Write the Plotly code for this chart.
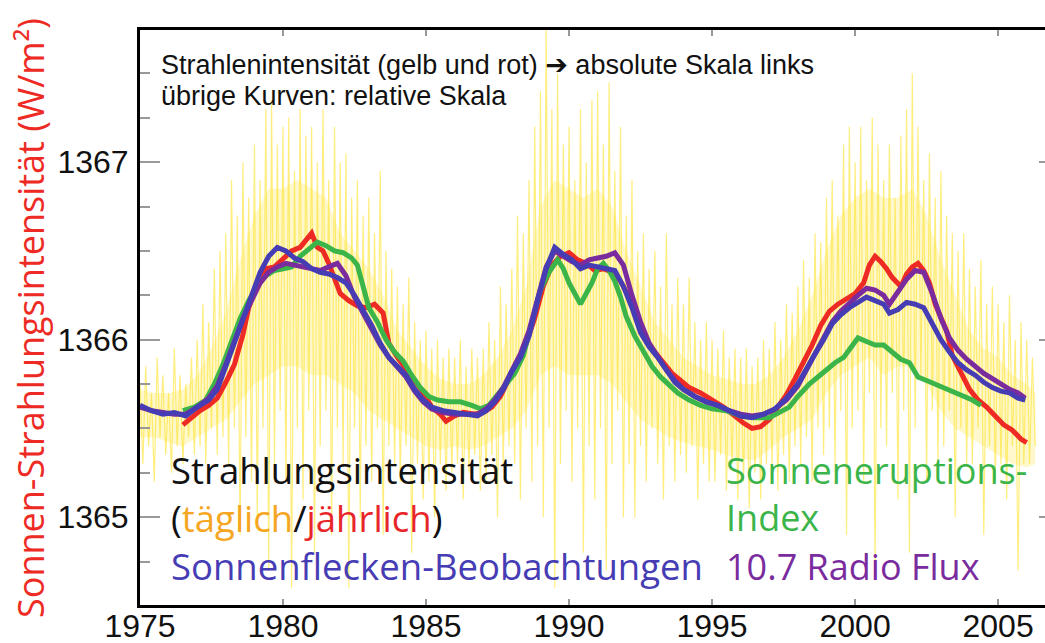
import plotly.graph_objects as go

# ---------------- data ----------------
x_ticks = [1975, 1980, 1985, 1990, 1995, 2000, 2005]
y_ticks = [1365, 1366, 1367]

# daily irradiance (yellow): upper and lower spike tips every 0.2 years from 1975.0
yellow_start = 1975.0
yellow_step = 0.2
yellow_hi = [
    1365.75, 1365.85, 1365.7, 1365.9, 1365.8, 1365.7, 1365.95, 1365.8, 1365.75, 1365.9,
    1366.0, 1366.2, 1366.1, 1366.4, 1366.5,
    1366.6, 1366.9, 1366.7, 1367.0, 1366.8,
    1367.1, 1366.9, 1367.3, 1367.35, 1367.1,
    1367.2, 1367.25, 1366.95, 1367.3, 1367.15,
    1367.2, 1367.0, 1367.3, 1366.9, 1367.2,
    1367.0, 1367.05, 1366.8, 1366.9, 1366.7,
    1366.8, 1366.6, 1366.95, 1366.5, 1366.4,
    1366.3, 1366.2, 1366.35, 1366.1, 1366.0,
    1366.05, 1365.95, 1366.0, 1365.9, 1365.95,
    1365.9, 1366.0, 1365.85, 1365.95, 1365.9,
    1365.95, 1366.1, 1366.0, 1366.3, 1366.2,
    1366.4, 1366.7, 1366.6, 1366.9, 1367.2,
    1367.4, 1367.75, 1367.3, 1367.5, 1367.1,
    1367.2, 1366.9, 1367.3, 1367.0, 1367.35,
    1367.4, 1367.1, 1367.45, 1366.95, 1367.2,
    1366.7, 1366.9, 1366.5, 1366.6, 1366.4,
    1366.5, 1366.3, 1366.6, 1366.2, 1366.35,
    1366.2, 1366.35, 1366.1, 1366.0, 1366.1,
    1366.0, 1365.95, 1366.05, 1365.9, 1365.95,
    1365.9, 1365.95, 1365.85, 1365.9, 1366.0,
    1365.95, 1366.1, 1366.0, 1366.2, 1366.15,
    1366.3, 1366.45, 1366.35, 1366.6, 1366.55,
    1366.8, 1366.9, 1366.7, 1367.1, 1367.2,
    1367.0, 1367.2, 1366.9, 1367.25, 1367.1,
    1366.9, 1367.1, 1366.8, 1367.15, 1367.3,
    1367.5, 1367.2, 1366.9, 1367.05, 1366.8,
    1366.95, 1366.7, 1366.6, 1366.5, 1366.6,
    1366.4, 1366.3, 1366.45, 1366.2, 1366.3,
    1366.2, 1366.1, 1366.25, 1366.0, 1366.1,
    1366.0, 1365.9,
]
yellow_lo = [
    1365.3, 1365.4, 1365.2, 1365.45, 1365.35, 1365.25, 1365.4, 1365.3, 1365.45, 1365.35,
    1365.4, 1365.3, 1365.5, 1365.35, 1365.45,
    1365.3, 1365.5, 1364.9, 1365.45, 1365.2,
    1365.0, 1365.5, 1364.7, 1365.3, 1365.6,
    1365.2, 1364.6, 1365.5, 1365.1, 1365.6,
    1364.8, 1365.4, 1365.6, 1364.9, 1365.5,
    1365.3, 1364.6, 1365.5, 1365.0, 1365.4,
    1365.2, 1365.5, 1364.9, 1365.4, 1365.3,
    1365.2, 1365.4, 1364.8, 1365.3, 1365.1,
    1365.2, 1365.0, 1365.3, 1365.15, 1365.25,
    1365.3, 1365.1, 1365.25, 1365.35, 1365.15,
    1365.2, 1365.35, 1365.0, 1365.3, 1365.4,
    1365.3, 1365.1, 1365.5, 1365.2, 1365.4,
    1365.0, 1365.5, 1364.6, 1365.3, 1365.6,
    1365.2, 1365.5, 1364.8, 1365.4, 1365.1,
    1365.5, 1364.7, 1365.3, 1365.6, 1365.0,
    1365.3, 1365.0, 1365.4, 1365.2, 1365.5,
    1365.3, 1365.1, 1365.4, 1365.2, 1365.35,
    1365.25, 1365.4, 1365.1, 1365.3, 1365.2,
    1365.2, 1365.35, 1365.15, 1365.3, 1365.1,
    1365.2, 1365.05, 1365.25, 1365.1, 1365.3,
    1365.3, 1365.15, 1365.35, 1365.2, 1365.4,
    1365.3, 1365.45, 1365.2, 1365.5, 1365.35,
    1365.5, 1365.3, 1365.6, 1364.9, 1365.5,
    1365.6, 1365.2, 1365.7, 1364.7, 1365.5,
    1365.4, 1365.7, 1365.1, 1365.6, 1364.8,
    1365.5, 1365.8, 1365.2, 1365.6, 1365.3,
    1365.4, 1365.6, 1365.0, 1365.5, 1365.3,
    1365.3, 1365.5, 1364.9, 1365.4, 1365.2,
    1365.3, 1365.1, 1365.4, 1364.7, 1365.3,
    1365.3, 1365.4,
]

# dense core of the daily values (yellow band), every 0.5 years from 1975.0
core_years = [1975.0, 1975.5, 1976.0, 1976.5, 1977.0, 1977.5, 1978.0, 1978.5, 1979.0, 1979.5,
              1980.0, 1980.5, 1981.0, 1981.5, 1982.0, 1982.5, 1983.0, 1983.5, 1984.0, 1984.5,
              1985.0, 1985.5, 1986.0, 1986.5, 1987.0, 1987.5, 1988.0, 1988.5, 1989.0, 1989.5,
              1990.0, 1990.5, 1991.0, 1991.5, 1992.0, 1992.5, 1993.0, 1993.5, 1994.0, 1994.5,
              1995.0, 1995.5, 1996.0, 1996.5, 1997.0, 1997.5, 1998.0, 1998.5, 1999.0, 1999.5,
              2000.0, 2000.5, 2001.0, 2001.5, 2002.0, 2002.5, 2003.0, 2003.5, 2004.0, 2004.5,
              2005.0, 2005.5, 2006.0, 2006.3]
core_hi = [1365.72, 1365.7, 1365.7, 1365.72, 1365.8, 1365.95, 1366.15, 1366.45, 1366.7, 1366.85,
           1366.85, 1366.9, 1366.85, 1366.8, 1366.6, 1366.5, 1366.4, 1366.25, 1366.05, 1365.95,
           1365.85, 1365.78, 1365.75, 1365.75, 1365.8, 1365.9, 1366.05, 1366.3, 1366.75, 1366.9,
           1366.85, 1366.8, 1366.85, 1366.75, 1366.5, 1366.3, 1366.1, 1366.0, 1365.9, 1365.85,
           1365.8, 1365.78, 1365.75, 1365.75, 1365.8, 1365.9, 1366.05, 1366.25, 1366.5, 1366.7,
           1366.8, 1366.85, 1366.8, 1366.8, 1366.85, 1366.7, 1366.45, 1366.25, 1366.05, 1365.95,
           1365.9, 1365.8, 1365.75, 1365.7]
core_lo = [1365.45, 1365.45, 1365.42, 1365.4, 1365.45, 1365.5, 1365.55, 1365.65, 1365.75, 1365.8,
           1365.85, 1365.85, 1365.8, 1365.8, 1365.75, 1365.7, 1365.6, 1365.55, 1365.5, 1365.45,
           1365.4, 1365.38, 1365.4, 1365.38, 1365.4, 1365.45, 1365.5, 1365.6, 1365.8, 1365.85,
           1365.8, 1365.8, 1365.8, 1365.75, 1365.65, 1365.55, 1365.5, 1365.45, 1365.42, 1365.4,
           1365.38, 1365.35, 1365.33, 1365.32, 1365.38, 1365.45, 1365.5, 1365.55, 1365.7, 1365.8,
           1365.85, 1365.9, 1365.8, 1365.85, 1365.85, 1365.75, 1365.6, 1365.5, 1365.45, 1365.4,
           1365.35, 1365.3, 1365.28, 1365.3]

# annual irradiance (red)
red_years = [1976.5, 1976.8, 1977.1, 1977.4, 1977.7, 1978.0, 1978.3, 1978.6, 1978.8, 1979.1,
             1979.4, 1979.7, 1980.0, 1980.3, 1980.6, 1980.8, 1981.0, 1981.2, 1981.4, 1981.6,
             1981.8, 1982.0, 1982.3, 1982.6, 1982.9, 1983.2, 1983.5, 1983.7, 1984.0, 1984.3,
             1984.6, 1984.9, 1985.2, 1985.5, 1985.7, 1986.0, 1986.3, 1986.7, 1987.0, 1987.3,
             1987.6, 1987.9, 1988.2, 1988.5, 1988.8, 1989.1, 1989.4, 1989.7, 1990.0, 1990.3,
             1990.6, 1990.9, 1991.2, 1991.5, 1991.8, 1992.1, 1992.4, 1992.7, 1993.0, 1993.3,
             1993.6, 1993.9, 1994.2, 1994.6, 1995.0, 1995.4, 1995.8, 1996.1, 1996.4, 1996.7,
             1997.0, 1997.3, 1997.6, 1997.9, 1998.2, 1998.5, 1998.8, 1999.1, 1999.4, 1999.7,
             2000.0, 2000.3, 2000.5, 2000.7, 2000.9, 2001.1, 2001.3, 2001.6, 2001.8, 2002.0,
             2002.2, 2002.4, 2002.6, 2002.8, 2003.0, 2003.2, 2003.4, 2003.7, 2004.0, 2004.3,
             2004.6, 2004.9, 2005.2, 2005.5, 2005.8, 2006.0]
red_vals = [1365.52, 1365.56, 1365.60, 1365.63, 1365.67, 1365.76, 1365.86, 1366.03, 1366.18, 1366.32,
            1366.40, 1366.41, 1366.46, 1366.50, 1366.52, 1366.56, 1366.60, 1366.52, 1366.50, 1366.43,
            1366.35, 1366.26, 1366.22, 1366.19, 1366.18, 1366.20, 1366.15, 1365.98, 1365.90, 1365.84,
            1365.77, 1365.70, 1365.62, 1365.58, 1365.54, 1365.57, 1365.59, 1365.58, 1365.59, 1365.62,
            1365.68, 1365.78, 1365.88, 1365.98, 1366.12, 1366.30, 1366.42, 1366.47, 1366.49, 1366.45,
            1366.43, 1366.39, 1366.40, 1366.38, 1366.33, 1366.24, 1366.12, 1366.00, 1365.93, 1365.87,
            1365.81, 1365.77, 1365.73, 1365.70, 1365.66, 1365.62, 1365.57, 1365.53, 1365.50, 1365.51,
            1365.55, 1365.62, 1365.69, 1365.78, 1365.87, 1365.97, 1366.08, 1366.16, 1366.20, 1366.23,
            1366.26, 1366.32, 1366.42, 1366.47, 1366.44, 1366.40, 1366.35, 1366.30, 1366.37, 1366.41,
            1366.43, 1366.39, 1366.32, 1366.20, 1366.12, 1366.05, 1365.91, 1365.82, 1365.72, 1365.66,
            1365.62, 1365.57, 1365.52, 1365.49, 1365.44, 1365.42]

# sunspot observations (blue) and 10.7 radio flux (purple), same time grid
sp_years = [1975.0, 1975.4, 1975.8, 1976.2, 1976.6, 1977.0, 1977.4, 1977.7, 1978.0, 1978.3,
            1978.6, 1978.9, 1979.2, 1979.5, 1979.8, 1980.1, 1980.4, 1980.7, 1981.0, 1981.3,
            1981.6, 1981.9, 1982.2, 1982.5, 1982.8, 1983.1, 1983.4, 1983.7, 1984.0, 1984.3,
            1984.6, 1984.9, 1985.2, 1985.6, 1986.0, 1986.4, 1986.8, 1987.1, 1987.4, 1987.7,
            1988.0, 1988.3, 1988.6, 1988.9, 1989.2, 1989.5, 1989.8, 1990.1, 1990.4, 1990.7,
            1991.0, 1991.3, 1991.6, 1991.9, 1992.2, 1992.5, 1992.8, 1993.1, 1993.4, 1993.7,
            1994.0, 1994.4, 1994.8, 1995.2, 1995.6, 1996.0, 1996.4, 1996.8, 1997.2, 1997.6,
            1998.0, 1998.3, 1998.6, 1998.9, 1999.2, 1999.5, 1999.8, 2000.1, 2000.4, 2000.7,
            2001.0, 2001.2, 2001.5, 2001.8, 2002.1, 2002.4, 2002.7, 2003.0, 2003.3, 2003.6,
            2003.9, 2004.2, 2004.5, 2004.8, 2005.1, 2005.4, 2005.7, 2005.95]
sunspot_vals = [1365.63, 1365.60, 1365.58, 1365.59, 1365.57, 1365.62, 1365.66, 1365.72, 1365.85, 1365.98,
                1366.13, 1366.25, 1366.38, 1366.47, 1366.52, 1366.50, 1366.46, 1366.44, 1366.40, 1366.38,
                1366.37, 1366.35, 1366.32, 1366.25, 1366.17, 1366.08, 1365.98, 1365.90, 1365.85, 1365.80,
                1365.72, 1365.66, 1365.62, 1365.60, 1365.59, 1365.58, 1365.57, 1365.60, 1365.65, 1365.72,
                1365.82, 1365.90, 1366.02, 1366.22, 1366.40, 1366.52, 1366.48, 1366.45, 1366.40, 1366.42,
                1366.41, 1366.40, 1366.39, 1366.30, 1366.18, 1366.04, 1365.96, 1365.90, 1365.83, 1365.76,
                1365.72, 1365.68, 1365.65, 1365.63, 1365.60, 1365.57, 1365.56, 1365.58, 1365.61, 1365.67,
                1365.75, 1365.84, 1365.92, 1366.00, 1366.09, 1366.14, 1366.18, 1366.21, 1366.24, 1366.22,
                1366.20, 1366.15, 1366.17, 1366.21, 1366.20, 1366.18, 1366.09, 1366.00, 1365.93, 1365.87,
                1365.83, 1365.80, 1365.76, 1365.73, 1365.71, 1365.70, 1365.67, 1365.66]
radio_vals = [1365.62, 1365.60, 1365.59, 1365.58, 1365.58, 1365.62, 1365.67, 1365.74, 1365.86, 1366.00,
              1366.12, 1366.22, 1366.32, 1366.38, 1366.41, 1366.43, 1366.42, 1366.41, 1366.40, 1366.39,
              1366.41, 1366.43, 1366.36, 1366.24, 1366.15, 1366.06, 1365.97, 1365.90, 1365.85, 1365.79,
              1365.71, 1365.65, 1365.61, 1365.59, 1365.58, 1365.58, 1365.58, 1365.61, 1365.66, 1365.73,
              1365.83, 1365.92, 1366.05, 1366.24, 1366.41, 1366.50, 1366.47, 1366.44, 1366.42, 1366.45,
              1366.46, 1366.47, 1366.49, 1366.42, 1366.25, 1366.10, 1365.98, 1365.90, 1365.83, 1365.77,
              1365.72, 1365.68, 1365.65, 1365.63, 1365.60, 1365.58, 1365.57, 1365.58, 1365.61, 1365.66,
              1365.74, 1365.83, 1365.92, 1366.02, 1366.10, 1366.16, 1366.21, 1366.25, 1366.29, 1366.28,
              1366.25, 1366.20, 1366.27, 1366.34, 1366.39, 1366.38, 1366.26, 1366.12, 1366.01, 1365.94,
              1365.89, 1365.85, 1365.81, 1365.78, 1365.75, 1365.72, 1365.70, 1365.67]

# solar flare index (green)
flare_years = [1976.5, 1976.9, 1977.3, 1977.6, 1977.9, 1978.2, 1978.5, 1978.8, 1979.1, 1979.4,
               1979.7, 1980.0, 1980.3, 1980.6, 1980.9, 1981.2, 1981.5, 1981.8, 1982.1, 1982.4,
               1982.6, 1982.8, 1983.0, 1983.3, 1983.6, 1983.9, 1984.2, 1984.5, 1984.8, 1985.1,
               1985.4, 1985.8, 1986.2, 1986.6, 1986.9, 1987.2, 1987.5, 1987.8, 1988.1, 1988.4,
               1988.7, 1989.0, 1989.3, 1989.6, 1989.8, 1990.0, 1990.2, 1990.4, 1990.6, 1990.8,
               1991.0, 1991.2, 1991.4, 1991.6, 1991.8, 1992.0, 1992.3, 1992.6, 1992.9, 1993.2,
               1993.5, 1993.8, 1994.2, 1994.6, 1995.0, 1995.5, 1996.0, 1996.5, 1997.0, 1997.4,
               1997.7, 1998.0, 1998.4, 1998.7, 1999.0, 1999.3, 1999.6, 1999.9, 2000.1, 2000.4,
               2000.7, 2001.0, 2001.3, 2001.6, 2001.9, 2002.2, 2002.5, 2002.8, 2003.1, 2003.5,
               2003.8, 2004.1, 2004.4]
flare_vals = [1365.60, 1365.62, 1365.66, 1365.75, 1365.86, 1366.00, 1366.12, 1366.22, 1366.30, 1366.36,
              1366.39, 1366.40, 1366.41, 1366.47, 1366.51, 1366.55, 1366.53, 1366.50, 1366.49, 1366.46,
              1366.42, 1366.30, 1366.18, 1366.10, 1366.00, 1365.93, 1365.88, 1365.80, 1365.73, 1365.68,
              1365.66, 1365.65, 1365.65, 1365.63, 1365.61, 1365.63, 1365.69, 1365.74, 1365.81, 1365.91,
              1366.10, 1366.28, 1366.38, 1366.45, 1366.40, 1366.32, 1366.26, 1366.20, 1366.26, 1366.32,
              1366.40, 1366.43, 1366.39, 1366.33, 1366.24, 1366.13, 1366.02, 1365.93, 1365.85, 1365.79,
              1365.74, 1365.70, 1365.66, 1365.63, 1365.61, 1365.60, 1365.57, 1365.56, 1365.56, 1365.59,
              1365.62, 1365.68, 1365.75, 1365.79, 1365.83, 1365.87, 1365.90, 1365.97, 1366.01, 1365.99,
              1365.97, 1365.97, 1365.93, 1365.89, 1365.87, 1365.79, 1365.77, 1365.75, 1365.73, 1365.70,
              1365.68, 1365.66, 1365.63]

# ---------------- styling ----------------
Y_RANGE = [1364.505, 1367.745]
X_RANGE = [1975, 2006.64]
C_YELLOW = "rgba(255,226,40,0.6)"
C_RED = "#EE2A24"
C_GREEN = "#3BB54A"
C_BLUE = "#463CB4"
C_PURPLE = "#7A2C9E"

# build the yellow zig-zag from the spike tips
yx, yy = [], []
for i, (hi, lo) in enumerate(zip(yellow_hi, yellow_lo)):
    t = yellow_start + i * yellow_step
    yx += [t, t + yellow_step / 2]
    yy += [hi, lo]

fig = go.Figure()
# dense yellow core band
fig.add_trace(go.Scatter(x=core_years, y=core_hi, mode="lines", line=dict(width=0, color=C_YELLOW),
                         hoverinfo="skip", yaxis="y"))
fig.add_trace(go.Scatter(x=core_years, y=core_lo, mode="lines", line=dict(width=0, color=C_YELLOW),
                         fill="tonexty", fillcolor="rgba(255,234,100,0.32)", hoverinfo="skip", yaxis="y"))
fig.add_trace(go.Scatter(x=yx, y=yy, mode="lines", line=dict(color=C_YELLOW, width=1.2),
                         hoverinfo="skip", yaxis="y"))
fig.add_trace(go.Scatter(x=red_years, y=red_vals, mode="lines",
                         line=dict(color=C_RED, width=5), yaxis="y"))
fig.add_trace(go.Scatter(x=flare_years, y=flare_vals, mode="lines",
                         line=dict(color=C_GREEN, width=5), yaxis="y2"))
fig.add_trace(go.Scatter(x=sp_years, y=radio_vals, mode="lines",
                         line=dict(color=C_PURPLE, width=5), yaxis="y2"))
fig.add_trace(go.Scatter(x=sp_years, y=sunspot_vals, mode="lines",
                         line=dict(color=C_BLUE, width=5), yaxis="y2"))

tick_font = dict(family="Liberation Sans, Arial, sans-serif", size=32, color="#111")

fig.update_layout(
    width=1045, height=643,
    margin=dict(l=140, r=0, t=30, b=38, autoexpand=False),
    paper_bgcolor="white", plot_bgcolor="white",
    showlegend=False,
    xaxis=dict(range=X_RANGE, tickvals=x_ticks, ticktext=[str(v) for v in x_ticks],
               ticks="inside", ticklen=6, tickwidth=2, tickcolor="#999",
               showline=True, linecolor="black", linewidth=3, mirror="ticks",
               showgrid=False, zeroline=False, tickfont=tick_font, ticklabelstandoff=-9,
               automargin=False),
    yaxis=dict(range=Y_RANGE, tickvals=y_ticks, ticktext=[str(v) for v in y_ticks],
               ticks="inside", ticklen=20, tickwidth=2, tickcolor="#999",
               minor=dict(ticks="inside", ticklen=10, tickwidth=2, tickcolor="#999", dtick=0.25,
                          tick0=1365, showgrid=False),
               showline=True, linecolor="black", linewidth=3,
               showgrid=False, zeroline=False, tickfont=tick_font, ticklabelstandoff=2,
               automargin=False),
    yaxis2=dict(range=Y_RANGE, overlaying="y", side="right", tickvals=y_ticks,
                ticks="inside", ticklen=6, tickwidth=2, tickcolor="#999",
                showticklabels=False, showline=False, showgrid=False, zeroline=False,
                automargin=False),
)

def px_x(px):
    return (px - 140) / 905.0

def px_y(py):
    return (605 - py) / 575.0

ann_font = "Liberation Sans, Arial, sans-serif"
leg_font = "Open Sans, Noto Sans, sans-serif"

annotations = [
    dict(text="Strahlenintensität (gelb und rot) <span style='font-family:DejaVu Sans'>➔</span> absolute Skala links",
         x=px_x(159), y=px_y(64), font=dict(family=ann_font, size=27, color="#111")),
    dict(text="übrige Kurven: relative Skala",
         x=px_x(159), y=px_y(96), font=dict(family=ann_font, size=27, color="#111")),
    dict(text="Strahlungsintensität",
         x=px_x(169), y=px_y(470), font=dict(family=leg_font, size=36.5, color="#111")),
    dict(text="(<span style='color:#F5A623'>täglich</span>/<span style='color:#E8262A'>jährlich</span>)",
         x=px_x(169), y=px_y(518), font=dict(family=leg_font, size=36.5, color="#111")),
    dict(text="Sonnenflecken-Beobachtungen",
         x=px_x(169), y=px_y(566), font=dict(family=leg_font, size=36.5, color=C_BLUE)),
    dict(text="Sonneneruptions-",
         x=px_x(724), y=px_y(470), font=dict(family=leg_font, size=36, color=C_GREEN)),
    dict(text="Index",
         x=px_x(724), y=px_y(517), font=dict(family=leg_font, size=36, color=C_GREEN)),
    dict(text="10.7 Radio Flux",
         x=px_x(724), y=px_y(566), font=dict(family=leg_font, size=36, color=C_PURPLE)),
]
for a in annotations:
    fig.add_annotation(xref="paper", yref="paper", xanchor="left", yanchor="middle",
                       showarrow=False, **a)

fig.add_annotation(text="Sonnen-Strahlungsintensität (W/m²)", textangle=-90,
                   xref="paper", yref="paper", x=px_x(30), y=px_y(318),
                   xanchor="center", yanchor="middle", showarrow=False,
                   font=dict(family=leg_font, size=36, color=C_RED))

# the page's default body margin would shift the figure; remove it
fig.write_html("out.html", config={"displayModeBar": False},
               post_script="document.body.style.margin='0px';document.body.style.overflow='hidden';")
